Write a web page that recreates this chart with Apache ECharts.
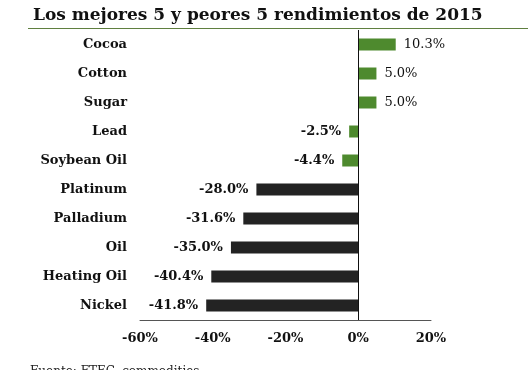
<!DOCTYPE html>
<html><head><meta charset="utf-8">
<script src="https://cdn.jsdelivr.net/npm/echarts@6/dist/echarts.min.js"></script>
<style>html,body{margin:0;padding:0;background:#fff}#c{width:528px;height:370px}</style>
</head><body><div id="c"></div>
<script>
const categories = ["Cocoa","Cotton","Sugar","Lead","Soybean Oil","Platinum","Palladium","Oil","Heating Oil","Nickel"];
const values = [10.3, 5.0, 5.0, -2.5, -4.4, -28.0, -31.6, -35.0, -40.4, -41.8];
const groups = ["best","best","best","best","best","worst","worst","worst","worst","worst"];
const tickLabels = ["-60%","-40%","-20%","0%","20%"];
const titleText = "Los mejores 5 y peores 5 rendimientos de 2015";
const sourceText = "Fuente: FTEC, commodities";

const F = "'DejaVu Serif', Georgia, serif";
const green = "#4e8a2e", dark = "#232323";
const chart = echarts.init(document.getElementById('c'));
chart.setOption({
  animation: false,
  title: { text: titleText, left: 28, top: 2, textStyle: { fontFamily: F, fontSize: 17, fontWeight: 'bold', color: '#111' } },
  graphic: [
    { type: 'line', shape: { x1: 28, y1: 28.5, x2: 528, y2: 28.5 }, style: { stroke: '#5f7f3f', lineWidth: 1 } },
    { type: 'text', left: 30, top: 366, style: { text: sourceText, font: "12px " + F, fill: '#222' } }
  ],
  grid: { left: 140, right: 97, top: 30, bottom: 50 },
  xAxis: {
    type: 'value', min: -60, max: 20, interval: 20,
    splitLine: { show: false },
    axisLine: { show: true, onZero: false, lineStyle: { color: '#555' } },
    axisTick: { show: false },
    axisLabel: { margin: 12, fontFamily: F, fontSize: 13, fontWeight: 'bold', color: '#111',
      formatter: v => tickLabels[(v + 60) / 20] }
  },
  yAxis: {
    type: 'category', data: categories, inverse: true,
    axisLine: { show: false }, axisTick: { show: false },
    axisLabel: { margin: 13, fontFamily: F, fontSize: 13, fontWeight: 'bold', color: '#111' }
  },
  series: [{
    type: 'bar', barWidth: 12,
    data: values.map((v, i) => ({
      value: v,
      itemStyle: { color: groups[i] === 'best' ? green : dark },
      label: { show: true, position: v >= 0 ? 'right' : 'left', distance: 8,
        fontFamily: F, fontSize: 13, fontWeight: v >= 0 ? 'normal' : 'bold', color: '#111',
        formatter: p => p.value.toFixed(1) + '%' }
    })),
    markLine: { silent: true, symbol: 'none', label: { show: false },
      lineStyle: { color: '#111', type: 'solid', width: 1 },
      data: [{ xAxis: 0 }] }
  }]
});
</script></body></html>
